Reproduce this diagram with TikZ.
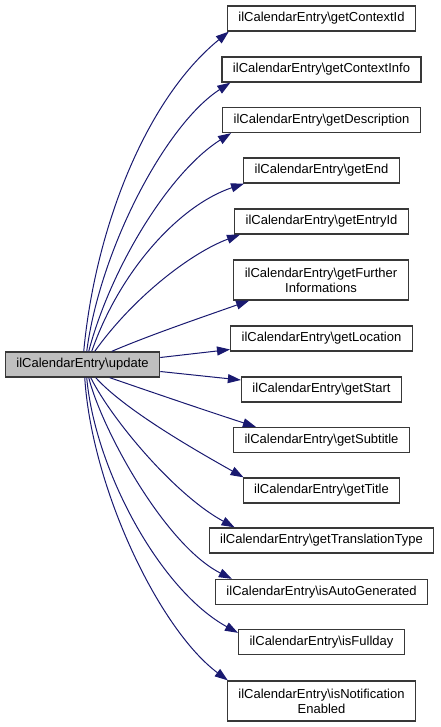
\documentclass[tikz,border=0pt]{standalone}
\usepackage{fontspec}
\setmainfont{Liberation Sans}
\usetikzlibrary{arrows.meta}

\definecolor{edgeblue}{RGB}{25,25,112}
\definecolor{boxline}{RGB}{56,56,56}
\definecolor{rootfill}{RGB}{191,191,191}

\tikzset{
  func/.style={draw=boxline, line width=1.3pt, fill=white, inner xsep=11pt,
    inner ysep=0pt, minimum height=25pt, align=center,
    font=\fontsize{13pt}{15pt}\selectfont},
  call/.style={draw=edgeblue, line width=1pt,
    -{Triangle[length=13pt,width=9pt]}}
}

\begin{document}
\begin{tikzpicture}[x=1pt, y=-1pt]
  \useasboundingbox (0,0) rectangle (440,727);

  % Вызывающая функция
  \node[func, fill=rootfill] (update) at (82.5,364.5) {ilCalendarEntry\textbackslash update};

  % Вызываемые функции
  \foreach \name/\y/\txt in {ctxid/18.5/getContextId, ctxinfo/69.5/getContextInfo,
      desc/120/getDescription, end/170.5/getEnd, entryid/221.5/getEntryId,
      location/338.5/getLocation, start/389.5/getStart, subtitle/440/getSubtitle,
      title/490.5/getTitle, transl/540.5/getTranslationType,
      autogen/592/isAutoGenerated, fullday/642/isFullday}
    \node[func] (\name) at (321.5,\y) {ilCalendarEntry\textbackslash\txt};
  \node[func, minimum height=40pt] (further) at (321,280)
    {ilCalendarEntry\textbackslash getFurther\\Informations};
  \node[func, minimum height=40pt] (notif) at (321.5,701)
    {ilCalendarEntry\textbackslash isNotification\\Enabled};

  % Вызовы вверх
  \draw[call] ([xshift=79pt]update.north west) .. controls (95,230) and (145,100) .. ([xshift=2pt]ctxid.south west);
  \draw[call] ([xshift=82pt]update.north west) .. controls (100,250) and (165,125) .. ([xshift=9pt]ctxinfo.south west);
  \draw[call] ([xshift=84pt]update.north west) .. controls (110,270) and (168,173) .. ([xshift=9pt]desc.south west);
  \draw[call] ([xshift=87pt]update.north west) .. controls (120,270) and (180,205) .. ([xshift=1pt]end.south west);
  \draw[call] ([xshift=90pt]update.north west) .. controls (135,295) and (193,252) .. ([xshift=6pt]entryid.south west);
  \draw[call] ([xshift=107pt]update.north west) .. controls (150,335) and (200,318) .. ([xshift=16pt]further.south west);

  % Вызовы вправо
  \draw[call] ([yshift=7pt]update.east) -- ([yshift=-11pt]location.west);
  \draw[call] ([yshift=-7pt]update.east) -- ([yshift=9.5pt]start.west);

  % Вызовы вниз
  \draw[call] ([xshift=105pt]update.south west) .. controls (160,395) and (210,412) .. ([xshift=23pt]subtitle.north west);
  \draw[call] ([xshift=91pt]update.south west) .. controls (125,410) and (195,450) .. ([xshift=1pt]title.north west);
  \draw[call] ([xshift=86pt]update.south west) .. controls (112,420) and (175,495) .. ([xshift=26pt]transl.north west);
  \draw[call] ([xshift=84pt]update.south west) .. controls (102,430) and (165,545) .. ([xshift=17pt]autogen.north west);
  \draw[call] ([xshift=82pt]update.south west) .. controls (95,470) and (160,590) .. ([yshift=-4pt]fullday.north west);
  \draw[call] ([xshift=80pt]update.south west) .. controls (92,490) and (160,630) .. ([xshift=1pt]notif.north west);
\end{tikzpicture}
\end{document}
